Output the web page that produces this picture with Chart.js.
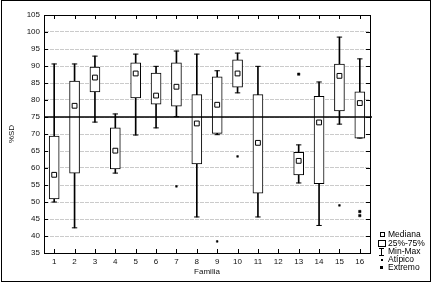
<!DOCTYPE html>
<html>
<head>
<meta charset="utf-8">
<script src="https://cdn.jsdelivr.net/npm/chart.js@4.4.0/dist/chart.umd.min.js"></script>
<style>
  html, body { margin: 0; padding: 0; background: #fff; }
  #wrap { position: relative; width: 432px; height: 283px; overflow: hidden; font-family: "Liberation Sans", Arial, sans-serif; }
  #chart { position: absolute; left: 0; top: 0; }
  #frame { position: absolute; left: 1px; top: 0; width: 428px; height: 280px; border: 1px solid #000; pointer-events: none; }
  .leg { position: absolute; left: 388px; font-size: 8.5px; line-height: 9px; color: #000; white-space: nowrap; }
  .ico { position: absolute; box-sizing: border-box; }
</style>
</head>
<body>
<div id="wrap">
  <canvas id="chart" width="432" height="283"></canvas>
  <div id="frame"></div>

  <!-- legend -->
  <div class="ico" style="left:380px;top:232px;width:5px;height:5px;border:1px solid #000"></div>
  <div class="leg" style="top:230px">Mediana</div>
  <div class="ico" style="left:378px;top:240px;width:8px;height:7px;border:1px solid #000"></div>
  <div class="leg" style="top:239px">25%-75%</div>
  <div class="ico" style="left:379px;top:248px;width:5px;height:1px;background:#000"></div>
  <div class="ico" style="left:381px;top:248px;width:1px;height:8px;background:#000"></div>
  <div class="ico" style="left:379px;top:255px;width:5px;height:1px;background:#000"></div>
  <div class="leg" style="top:247px">Min-Max</div>
  <div class="ico" style="left:381px;top:259px;width:2px;height:2px;background:#000"></div>
  <div class="leg" style="top:255px">Atípico</div>
  <div class="ico" style="left:380px;top:266px;width:3px;height:3px;background:#000"></div>
  <div class="leg" style="top:263px">Extremo</div>
</div>

<script>
/* ---- data ---- */
const familias = ['1','2','3','4','5','6','7','8','9','10','11','12','13','14','15','16'];
const maxVals  = [90.6, 90.6, 92.9, 75.9, 93.5, 89.9, 94.4, 93.5, 88.6, 93.8, 89.9, null, 66.8, 85.3, 98.5, 92.1];
const q3Vals   = [69.4, 85.6, 89.7, 71.8, 90.9, 87.9, 90.9, 81.6, 86.8, 91.8, 81.6, null, 64.6, 81.1, 90.6, 82.4];
const medianas = [58.0, 78.3, 86.6, 65.1, 87.8, 81.3, 83.9, 73.1, 78.6, 87.8, 67.4, null, 62.1, 73.4, 87.1, 79.1];
const q1Vals   = [50.9, 58.5, 82.4, 59.7, 80.6, 78.8, 78.2, 61.2, 70.2, 83.8, 52.6, null, 58.0, 55.4, 76.8, 68.8];
const minVals  = [50.0, 42.4, 73.5, 58.5, 69.7, 71.8, 75.1, 45.6, 69.8, 82.1, 45.6, null, 55.6, 43.1, 72.9, 68.8];

const atipicos = [ { x: '7', y: 54.6 }, { x: '9', y: 38.4 }, { x: '10', y: 63.4 }, { x: '15', y: 49.0 } ];
const extremos = [ { x: '13', y: 87.6 }, { x: '16', y: 47.2 }, { x: '16', y: 46.0 } ];

const refLine = 75;
const yMin = 35, yMax = 105, yStep = 5;

const font = { family: '"Liberation Sans", Arial, sans-serif', size: 8 };

// whisker caps at min and max
const caps = [];
familias.forEach((f, i) => {
  if (maxVals[i] != null) caps.push({ x: f, y: maxVals[i] });
  if (minVals[i] != null) caps.push({ x: f, y: minVals[i] });
});

// frame, inward ticks and the 75 reference line
const framePlugin = {
  id: 'frame',
  afterDatasetsDraw(chart) {
    const { ctx, chartArea: a, scales: { x, y } } = chart;
    ctx.save();
    ctx.strokeStyle = '#000';

    const yr = y.getPixelForValue(refLine);
    ctx.lineWidth = 1.6;
    ctx.beginPath();
    ctx.moveTo(a.left, yr);
    ctx.lineTo(a.right + 2, yr);
    ctx.stroke();

    ctx.lineWidth = 1;
    ctx.strokeRect(Math.round(a.left) + .5, Math.round(a.top) + .5,
                   Math.round(a.right - a.left), Math.round(a.bottom - a.top));

    ctx.beginPath();
    y.ticks.forEach((t, i) => {
      const py = Math.round(y.getPixelForTick(i)) + .5;
      ctx.moveTo(a.left, py);  ctx.lineTo(a.left + 4, py);
      ctx.moveTo(a.right, py); ctx.lineTo(a.right - 4, py);
    });
    x.ticks.forEach((t, i) => {
      const px = Math.round(x.getPixelForTick(i)) + .5;
      ctx.moveTo(px, a.bottom); ctx.lineTo(px, a.bottom - 4);
      ctx.moveTo(px, a.top);    ctx.lineTo(px, a.top + 4);
    });
    ctx.stroke();
    ctx.restore();
  }
};

new Chart(document.getElementById('chart'), {
  type: 'bar',
  data: {
    labels: familias,
    datasets: [
      { // min-max stem
        type: 'bar', order: 5, grouped: false,
        data: minVals.map((m, i) => m == null ? null : [m, maxVals[i]]),
        backgroundColor: '#000', borderWidth: 0, barThickness: 1
      },
      { // 25%-75% box
        type: 'bar', order: 4, grouped: false,
        data: q1Vals.map((q, i) => q == null ? null : [q, q3Vals[i]]),
        backgroundColor: '#fff', borderColor: '#000', borderWidth: 1,
        borderSkipped: false, barThickness: 10
      },
      { // caps
        type: 'line', order: 3, showLine: false, data: caps,
        pointStyle: 'line', pointRadius: 2.7, borderColor: '#000', borderWidth: 1
      },
      { // median
        type: 'line', order: 2, showLine: false, data: medianas,
        pointStyle: 'rect', pointRadius: 3.4,
        backgroundColor: '#fff', borderColor: '#000', borderWidth: 1
      },
      { // atipico
        type: 'line', order: 1, showLine: false, data: atipicos,
        pointStyle: 'rect', pointRadius: 1.2,
        backgroundColor: '#000', borderColor: '#000', borderWidth: 0.5
      },
      { // extremo
        type: 'line', order: 0, showLine: false, data: extremos,
        pointStyle: 'rect', pointRadius: 1.7,
        backgroundColor: '#000', borderColor: '#000', borderWidth: 0.5
      }
    ]
  },
  options: {
    responsive: false,
    animation: false,
    devicePixelRatio: 1,
    layout: { padding: { left: 0, top: 15, right: 62, bottom: 0 } },
    plugins: { legend: { display: false }, tooltip: { enabled: false } },
    scales: {
      x: {
        offset: true,
        grid: { display: false, drawTicks: false },
        border: { display: false },
        ticks: { font, color: '#111', padding: 4, maxRotation: 0 },
        title: { display: true, text: 'Familia', font, color: '#111', padding: { top: 0, bottom: 6 } },
        afterFit(s) { s.height = 30; }
      },
      y: {
        min: yMin, max: yMax,
        ticks: { stepSize: yStep, font, color: '#111', padding: 4 },
        grid: { color: '#cbcbcb', drawTicks: false, tickLength: 0 },
        border: { display: true, color: 'rgba(0,0,0,0)', dash: [4, 1] },
        title: { display: true, text: '%SD', font, color: '#111', padding: { top: 7, bottom: 0 } },
        afterFit(s) { s.width = 44; }
      }
    }
  },
  plugins: [framePlugin]
});
</script>
</body>
</html>
